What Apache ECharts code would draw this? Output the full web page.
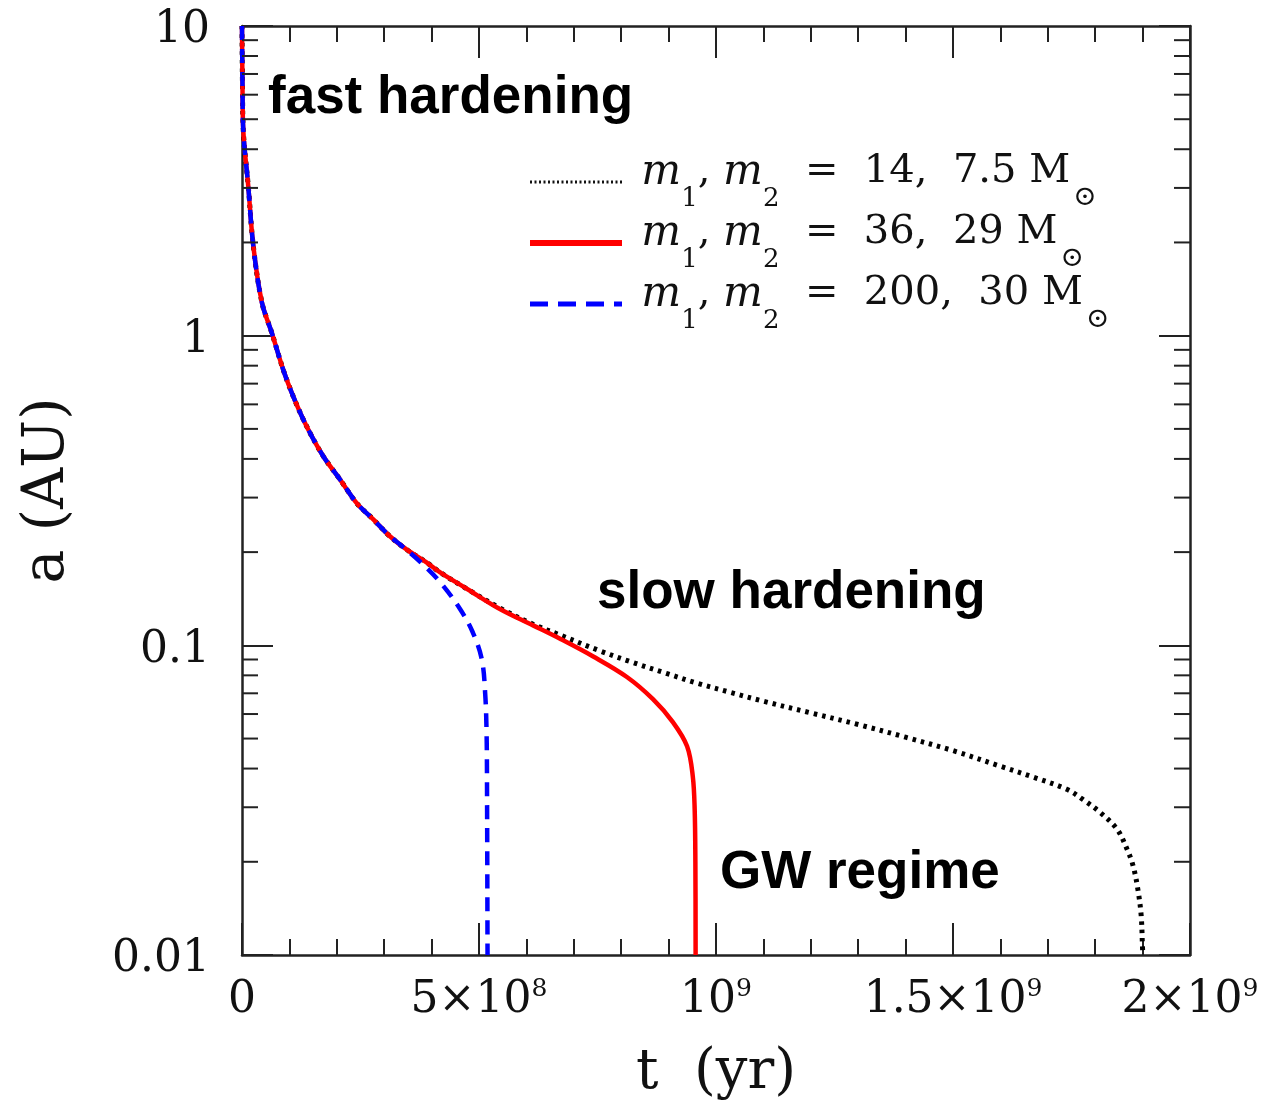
<!DOCTYPE html>
<html>
<head>
<meta charset="utf-8">
<script src="https://cdn.jsdelivr.net/npm/echarts@6/dist/echarts.min.js"></script>
<style>
  html, body { margin: 0; padding: 0; background: #fff; }
  #chart { width: 1270px; height: 1106px; }
</style>
</head>
<body>
<div id="chart"></div>
<script>
// Binary separation a (AU) versus time t (yr) for three mass pairs
const seriesNames = ['pair14', 'pair36', 'pair200'];
const massLabels = ['14,  7.5', '36,  29', '200,  30'];

// m1, m2 = 14, 7.5 Msun
const tLight = [0, 1e6, 2.7e6, 1.33e7, 2.4e7, 4.2e7, 6.3e7, 8.7e7, 1.08e8, 1.365e8, 1.715e8, 2.07e8, 2.42e8, 2.77e8, 3.12e8,
  3.47e8, 3.9e8, 4.18e8, 4.75e8, 5.44e8, 6.14e8, 6.71e8, 7.55e8, 8.2e8, 8.97e8, 9.6e8, 1.03e9, 1.1e9, 1.2e9, 1.3e9, 1.4e9,
  1.5e9, 1.6e9, 1.67e9, 1.74e9, 1.774e9, 1.81e9, 1.846e9, 1.867e9, 1.88e9, 1.89e9, 1.897e9, 1.9e9, 1.901e9];
const aLight = [10, 6.5, 4.6, 3.03, 1.94, 1.28, 1.02, 0.776, 0.637, 0.509, 0.408, 0.343, 0.288, 0.255, 0.225,
  0.204, 0.185, 0.172, 0.152, 0.132, 0.117, 0.108, 0.096, 0.0885, 0.081, 0.0755, 0.0705, 0.066, 0.0605, 0.0555, 0.0505,
  0.0457, 0.0407, 0.0375, 0.0343, 0.0318, 0.0289, 0.0255, 0.022, 0.0194, 0.0163, 0.0134, 0.0104, 0.01];

// m1, m2 = 36, 29 Msun
const tMid = [0, 1e6, 2.7e6, 1.33e7, 2.4e7, 4.2e7, 6.3e7, 8.7e7, 1.08e8, 1.365e8, 1.715e8, 2.07e8, 2.42e8, 2.77e8, 3.12e8,
  3.47e8, 3.9e8, 4.18e8, 4.75e8, 5.44e8, 6.14e8, 6.71e8, 7.41e8, 8.12e8, 8.67e8, 9.09e8, 9.39e8, 9.51e8, 9.55e8, 9.565e8, 9.57e8];
const aMid = [10, 6.5, 4.6, 3.03, 1.94, 1.28, 1.02, 0.776, 0.637, 0.509, 0.408, 0.343, 0.288, 0.255, 0.225,
  0.204, 0.185, 0.172, 0.152, 0.131, 0.116, 0.105, 0.092, 0.079, 0.067, 0.0565, 0.0472, 0.0378, 0.0296, 0.02, 0.01];

// m1, m2 = 200, 30 Msun
const tHeavy = [0, 1e6, 2.7e6, 1.33e7, 2.4e7, 4.2e7, 6.3e7, 8.7e7, 1.08e8, 1.365e8, 1.715e8, 2.07e8, 2.42e8, 2.77e8, 3.12e8,
  3.33e8, 3.76e8, 4.18e8, 4.6e8, 4.87e8, 5.06e8, 5.13e8, 5.16e8, 5.17e8, 5.18e8];
const aHeavy = [10, 6.5, 4.6, 3.03, 1.94, 1.28, 1.02, 0.776, 0.637, 0.509, 0.408, 0.343, 0.288, 0.255, 0.225,
  0.212, 0.186, 0.160, 0.131, 0.110, 0.090, 0.070, 0.052, 0.032, 0.01];

// Axis ticks
const xTickValues = [0, 5e8, 1e9, 1.5e9, 2e9];
const xTickLabels = ['0', '5×10{e|8}', '10{e|9}', '1.5×10{e|9}', '2×10{e|9}'];
const yTickValues = [0.01, 0.1, 1, 10];
const yTickLabels = ['0.01', '0.1', '1', '10'];

const serif = '"DejaVu Serif", serif';
const sans = '"Liberation Sans", Arial, sans-serif';
const X_MIN = 0, X_MAX = 2e9, Y_MIN = 0.01, Y_MAX = 10;

function pairs(t, a) { return t.map((v, i) => [v, a[i]]); }

// minor log ticks 2..9 per decade
const yMinor = [];
for (let e = -2; e < 1; e++) {
  for (let k = 2; k <= 9; k++) yMinor.push([X_MIN, k * Math.pow(10, e)]);
}

const frameColor = '#222';
const chart = echarts.init(document.getElementById('chart'), null, { renderer: 'canvas' });

function xLabel(v) {
  const i = xTickValues.findIndex(tv => Math.abs(tv - v) < 1);
  return i >= 0 ? xTickLabels[i] : '';
}
function yLabel(v) {
  const i = yTickValues.findIndex(tv => Math.abs(Math.log10(tv) - Math.log10(v)) < 1e-6);
  return i >= 0 ? yTickLabels[i] : '';
}

const xAxisBase = {
  type: 'value', min: X_MIN, max: X_MAX, interval: 5e8,
  axisLine: { show: true, onZero: false, lineStyle: { color: frameColor, width: 2.5 } },
  axisTick: { show: true, inside: true, length: 32, lineStyle: { color: frameColor, width: 2 } },
  minorTick: { show: true, splitNumber: 5, length: 16, lineStyle: { color: frameColor, width: 2 } },
  splitLine: { show: false }, minorSplitLine: { show: false }
};
const yAxisBase = {
  type: 'log', logBase: 10, min: Y_MIN, max: Y_MAX,
  axisLine: { show: true, onZero: false, lineStyle: { color: frameColor, width: 2.5 } },
  axisTick: { show: true, inside: true, length: 31, lineStyle: { color: frameColor, width: 2 } },
  minorTick: { show: false },
  splitLine: { show: false }
};

const legendText = massLabels.map(m => `{h| }{i|m}{s|1}{r|, }{i|m}{s|2}{r|  =  ${m} M}{o|⊙}`);

const option = {
  backgroundColor: '#fff',
  animation: false,
  grid: { left: 242, top: 26, width: 948, height: 930, containLabel: false },
  xAxis: [
    Object.assign({}, xAxisBase, {
      position: 'bottom',
      name: 't  (yr)', nameLocation: 'middle', nameGap: 90,
      nameTextStyle: { fontFamily: serif, fontSize: 56, color: '#111' },
      axisLabel: {
        show: true, margin: 22, formatter: xLabel, showMinLabel: true, showMaxLabel: true, hideOverlap: false,
        fontFamily: serif, fontSize: 44, color: '#111', lineHeight: 48,
        rich: { e: { fontFamily: serif, fontSize: 25, lineHeight: 26, verticalAlign: 'top', color: '#111' } }
      }
    }),
    Object.assign({}, xAxisBase, { position: 'top', axisLabel: { show: false } })
  ],
  yAxis: [
    Object.assign({}, yAxisBase, {
      position: 'left',
      name: 'a (AU)', nameLocation: 'middle', nameGap: 165, nameRotate: 90,
      nameTextStyle: { fontFamily: serif, fontSize: 57, color: '#111' },
      axisLabel: { show: true, margin: 32, formatter: yLabel, fontFamily: serif, fontSize: 44, color: '#111',
        verticalAlign: 'top', lineHeight: 10, showMinLabel: true, showMaxLabel: true }
    }),
    Object.assign({}, yAxisBase, { position: 'right', axisLabel: { show: false } })
  ],
  legend: {
    show: true, orient: 'vertical', left: 527, top: 152, padding: 0, itemGap: 1,
    itemWidth: 92, itemHeight: 20, selectedMode: false,
    data: [
      { name: seriesNames[0], itemStyle: { opacity: 0 }, lineStyle: { color: '#111', width: 3, type: [2, 2.5] } },
      { name: seriesNames[1], itemStyle: { opacity: 0 }, lineStyle: { color: '#ff0000', width: 6, type: 'solid' } },
      { name: seriesNames[2], itemStyle: { opacity: 0 }, lineStyle: { color: '#0000ff', width: 5, type: [18, 10] } }
    ],
    formatter: name => legendText[seriesNames.indexOf(name)],
    textStyle: {
      fontFamily: serif, fontSize: 40, color: '#111',
      rich: {
        h: { fontSize: 1, lineHeight: 60, padding: [0, 0, 0, 14] },
        i: { fontFamily: serif, fontStyle: 'italic', fontSize: 42, lineHeight: 40, verticalAlign: 'top', color: '#111' },
        r: { fontFamily: serif, fontSize: 40, lineHeight: 40, verticalAlign: 'top', color: '#111' },
        s: { fontFamily: serif, fontSize: 26, lineHeight: 46, verticalAlign: 'bottom', color: '#111' },
        o: { fontFamily: serif, fontSize: 28, lineHeight: 58, verticalAlign: 'bottom', color: '#111', padding: [0, 0, 0, 3] }
      }
    }
  },
  graphic: [
    { type: 'text', x: 268, y: 98, z: 100, style: { text: 'fast hardening', font: `bold 53px ${sans}`, fill: '#000', verticalAlign: 'middle' } },
    { type: 'text', x: 597, y: 593, z: 100, style: { text: 'slow hardening', font: `bold 53px ${sans}`, fill: '#000', verticalAlign: 'middle' } },
    { type: 'text', x: 720, y: 873, z: 100, style: { text: 'GW regime', font: `bold 53px ${sans}`, fill: '#000', verticalAlign: 'middle' } }
  ],
  series: [
    {
      type: 'custom', name: 'yMinorTicks', coordinateSystem: 'cartesian2d', silent: true, clip: false,
      encode: { x: 0, y: 1 }, data: yMinor, z: 5,
      renderItem: (params, api) => {
        const v = api.value(1);
        const pL = api.coord([X_MIN, v]);
        const pR = api.coord([X_MAX, v]);
        const st = { stroke: frameColor, lineWidth: 2 };
        return { type: 'group', children: [
          { type: 'line', shape: { x1: pL[0], y1: pL[1], x2: pL[0] + 16, y2: pL[1] }, style: st },
          { type: 'line', shape: { x1: pR[0] - 16, y1: pR[1], x2: pR[0], y2: pR[1] }, style: st }
        ] };
      }
    },
    {
      type: 'line', name: seriesNames[0], data: pairs(tLight, aLight), symbol: 'none', showSymbol: false,
      smooth: 0.35, z: 2,
      lineStyle: { color: '#000', width: 5, type: [3.5, 5] }, itemStyle: { color: '#000' }
    },
    {
      type: 'line', name: seriesNames[1], data: pairs(tMid, aMid), symbol: 'none', showSymbol: false,
      smooth: 0.35, z: 3,
      lineStyle: { color: '#ff0000', width: 4.5, type: 'solid' }, itemStyle: { color: '#ff0000' }
    },
    {
      type: 'line', name: seriesNames[2], data: pairs(tHeavy, aHeavy), symbol: 'none', showSymbol: false,
      smooth: 0.35, z: 4,
      lineStyle: { color: '#0000ff', width: 4.5, type: [14, 9] }, itemStyle: { color: '#0000ff' }
    }
  ]
};
chart.setOption(option);
</script>
</body>
</html>
